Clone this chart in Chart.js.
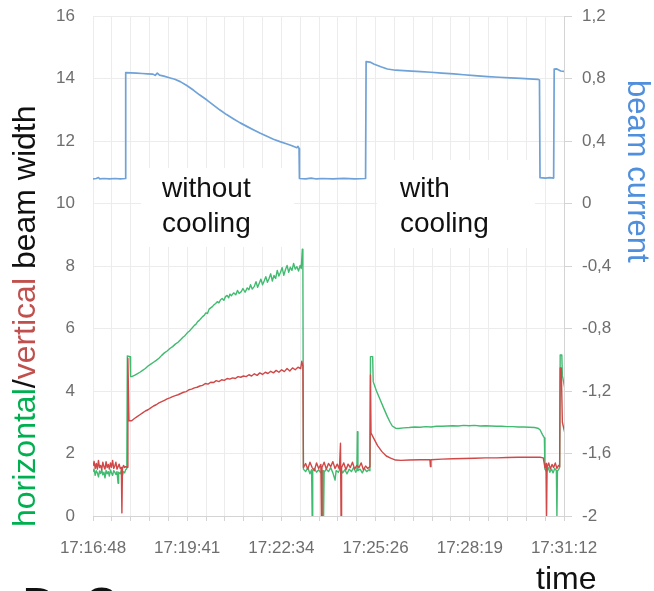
<!DOCTYPE html>
<html>
<head>
<meta charset="utf-8">
<script src="https://cdn.jsdelivr.net/npm/chart.js@4/dist/chart.umd.min.js"></script>
<style>
  html, body { margin: 0; padding: 0; background: #fff; }
  canvas { display: block; }
</style>
</head>
<body>
<canvas id="c" width="654" height="591"></canvas>
<script>
// Time axis: seconds after 17:16:48, major labels every 172.8 s
const xTickLabels = ['17:16:48', '17:19:41', '17:22:34', '17:25:26', '17:28:19', '17:31:12'];
const xMinorStep = 34.56;   // five minor grid steps per labelled tick
const xSpan = 864;

const leftTickValues = [0, 2, 4, 6, 8, 10, 12, 14, 16];
const rightTickValues = [-2, -1.6, -1.2, -0.8, -0.4, 0, 0.4, 0.8, 1.2];
const rightTickLabels = ['-2', '-1,6', '-1,2', '-0,8', '-0,4', '0', '0,4', '0,8', '1,2'];

// horizontal beam width [t (s), width]
const widthH = [
  [0,1.42],[2,1.50],[4,1.30],[6,1.45],[8,1.38],[10,1.25],[12,1.44],[14,1.36],[16,1.48],[18,1.32],
  [20,1.40],[22,1.22],[24,1.46],[26,1.35],[28,1.42],[30,1.28],[32,1.47],[34,1.38],[36,1.30],[38,1.45],
  [40,1.40],[42,1.33],[44,1.42],[46,1.05],[47,1.40],[50,1.35],[52,1.46],[54,1.30],[56,1.42],[58,1.38],
  [60,1.48],[62,1.52],[63,5.12],[68,5.10],[69,4.46],
  [71,4.46],[76,4.50],[81,4.55],[86,4.60],[91,4.66],[96,4.72],[101,4.80],[106,4.86],[111,4.92],[116,4.98],
  [121,5.05],[126,5.14],[131,5.22],[136,5.28],[141,5.36],[146,5.42],[151,5.50],[156,5.56],[161,5.65],[165,5.72],
  [168,5.76],[171,5.82],[174,5.88],[177,5.92],[180,5.98],[183,6.04],[186,6.10],[189,6.14],[192,6.22],[195,6.26],
  [198,6.32],[201,6.38],[204,6.42],[207,6.50],[210,6.48],[213,6.62],[216,6.66],[219,6.70],[222,6.76],[225,6.80],
  [228,6.86],[231,6.82],[234,6.92],[237,6.96],[240,6.90],[243,7.02],[246,7.06],[249,6.98],[251,7.10],[254,7.05],
  [258,7.14],[262,7.08],[265,7.22],[268,7.12],[272,7.18],[275,7.28],[279,7.16],[283,7.30],[286,7.24],[289,7.40],
  [292,7.26],[296,7.35],[299,7.50],[302,7.32],[305,7.45],[308,7.58],[311,7.40],[314,7.52],[317,7.66],[320,7.48],
  [323,7.60],[326,7.75],[329,7.52],[332,7.70],[335,7.60],[338,7.86],[341,7.68],[344,7.80],[347,7.95],[350,7.70],
  [353,7.88],[356,8.02],[359,7.80],[362,7.96],[365,7.86],[368,8.08],[371,7.90],[374,7.98],[377,7.84],[380,8.02],
  [382,7.92],[384,8.54],[385,8.00],[386,1.50],
  [390,1.42],[394,1.55],[398,1.35],[401,1.48],[402,0.00],[403,1.45],[406,1.52],[410,1.40],[414,1.48],[418,1.38],
  [420,1.45],[421,0.00],[422,1.45],[423,0.00],[424,1.40],[428,1.50],[432,1.42],[436,1.55],[440,1.38],[444,1.15],
  [446,1.45],[450,1.40],[454,1.52],[458,1.38],[462,1.48],[466,1.35],[470,1.50],[474,1.42],[478,1.55],[482,1.40],
  [484,1.46],[485,2.70],[486,1.45],[490,1.50],[494,1.38],[498,1.52],[502,1.42],[506,1.48],[508,1.45],
  [509,5.10],[513,5.10],[514,4.30],[520,4.00],[527,3.71],[534,3.42],[540,3.18],[545,3.00],[549,2.88],[555,2.81],
  [560,2.80],[570,2.82],[580,2.83],[590,2.85],[600,2.84],[610,2.86],[620,2.85],[630,2.87],[640,2.87],[650,2.88],
  [660,2.89],[670,2.88],[680,2.90],[690,2.89],[700,2.90],[710,2.88],[720,2.89],[730,2.88],[740,2.87],[750,2.87],
  [760,2.86],[770,2.86],[780,2.85],[790,2.85],[800,2.84],[810,2.83],[816,2.81],[820,2.76],[825,2.59],[828,2.50],
  [829,1.50],[832,1.42],[835,1.55],[838,1.40],[841,1.50],[844,1.38],[847,1.52],[850,1.45],[851,0.00],[852,1.45],
  [854,1.48],[856,1.55],[857,5.15],[860,5.15],[861,4.50],[866,4.03]
];

// vertical beam width [t (s), width]
const widthV = [
  [0,1.60],[2,1.75],[4,1.52],[6,1.68],[8,1.50],[10,1.78],[12,1.55],[14,1.62],[16,1.48],[18,1.72],
  [20,1.58],[22,1.50],[24,1.74],[26,1.55],[28,1.65],[30,1.50],[32,1.70],[34,1.56],[36,1.78],[38,1.52],
  [40,1.60],[42,1.72],[44,1.50],[46,1.58],[48,1.66],[50,1.52],[52,1.55],[53,0.10],[54,1.52],[56,1.62],
  [58,1.55],[60,1.58],[63,1.56],[64,5.05],[66,3.05],
  [71,3.05],[76,3.12],[81,3.18],[86,3.24],[91,3.30],[96,3.36],[101,3.40],[106,3.46],[111,3.52],[116,3.56],
  [121,3.62],[126,3.66],[131,3.70],[136,3.75],[141,3.78],[146,3.82],[151,3.85],[156,3.88],[161,3.92],[166,3.96],
  [171,3.98],[176,4.04],[181,4.06],[186,4.10],[191,4.12],[196,4.16],[201,4.18],[206,4.24],[211,4.22],[216,4.28],
  [221,4.27],[226,4.33],[231,4.30],[236,4.36],[241,4.34],[246,4.40],[251,4.38],[256,4.42],[261,4.40],[266,4.46],
  [271,4.44],[276,4.48],[281,4.46],[286,4.52],[291,4.48],[296,4.55],[301,4.50],[306,4.58],[311,4.53],[316,4.60],
  [321,4.56],[326,4.63],[331,4.58],[336,4.66],[341,4.60],[346,4.68],[351,4.62],[356,4.72],[361,4.64],[366,4.74],
  [371,4.68],[376,4.76],[381,4.72],[383,4.95],[385,4.80],[386,1.55],
  [390,1.68],[394,1.50],[398,1.72],[402,1.55],[406,1.45],[410,1.70],[414,1.52],[418,1.65],[419,0.00],[420,1.55],
  [424,1.72],[428,1.50],[432,1.68],[436,1.58],[440,1.74],[444,1.52],[448,1.66],[452,1.50],[454,2.33],[455,0.00],
  [456,1.55],[460,1.70],[464,1.48],[468,1.66],[472,1.55],[476,1.72],[480,1.50],[484,1.62],[488,1.55],[492,1.70],
  [496,1.48],[500,1.60],[504,1.52],[508,1.58],
  [509,4.51],[510,2.65],[516,2.45],[522,2.25],[530,2.06],[538,1.92],[546,1.85],[555,1.79],[565,1.78],[580,1.79],
  [600,1.80],[618,1.80],[619,1.58],[620,1.80],[640,1.82],[660,1.83],[680,1.84],[700,1.85],[720,1.86],[740,1.86],
  [760,1.87],[780,1.88],[800,1.88],[820,1.88],[826,1.86],[829,1.55],
  [831,1.68],[832,0.00],[833,1.55],[836,1.70],[839,1.50],[842,1.65],[845,1.55],[848,1.70],[851,1.52],[854,1.62],
  [856,1.58],[857,4.74],[859,4.74],[861,3.00],[866,2.62]
];

// beam current [t (s), current]
const current = [
  [0,0.158],[6,0.160],[10,0.166],[12,0.158],[20,0.160],[30,0.157],[40,0.160],[50,0.158],[59.8,0.160],
  [60,0.837],[70,0.836],[80,0.834],[90,0.832],[100,0.830],[110,0.828],[114,0.820],[118,0.834],[122,0.822],
  [130,0.815],[140,0.805],[150,0.795],[160,0.780],[172,0.755],[184,0.726],[196,0.694],[209,0.662],[221,0.630],
  [233,0.598],[245,0.569],[258,0.541],[270,0.516],[283,0.492],[295,0.470],[307,0.449],[319,0.430],[331,0.411],
  [343,0.396],[356,0.381],[365,0.370],[374,0.357],[376,0.366],[378,0.352],
  [378.7,0.160],[390,0.158],[400,0.162],[410,0.157],[420,0.160],[440,0.158],[460,0.161],[480,0.157],[500,0.160],
  [501,0.908],[508,0.905],[515,0.893],[528,0.875],[540,0.861],[555,0.853],[570,0.850],[585,0.847],[601,0.844],
  [620,0.840],[640,0.835],[662,0.829],[680,0.824],[700,0.818],[724,0.812],[745,0.808],[765,0.804],[785,0.801],
  [800,0.798],[816,0.795],[819,0.790],
  [820,0.165],[830,0.162],[838,0.165],[845,0.163],
  [846,0.860],[850,0.862],[858,0.848],[866,0.844]
];

const GREEN_LINE = '#41bb70';
const RED_LINE = '#d04848';
const BLUE_LINE = '#6fa2d8';
const TICK_GREY = '#6e6e6e';
const GRID = '#ececec';
const AXIS = '#d4d4d4';

// white panels behind the two captions
const captionPanels = {
  id: 'captionPanels',
  beforeDatasetsDraw(chart) {
    const ctx = chart.ctx;
    ctx.save();
    ctx.fillStyle = '#ffffff';
    ctx.fillRect(141, 168, 153, 79);
    ctx.fillRect(377, 160, 158, 88);
    ctx.restore();
  }
};

// captions, axis titles and footer text
const chartTexts = {
  id: 'chartTexts',
  afterDraw(chart) {
    const ctx = chart.ctx;
    ctx.save();
    ctx.textBaseline = 'alphabetic';
    ctx.textAlign = 'left';

    ctx.fillStyle = '#111111';
    ctx.font = '28px "Liberation Sans", Arial, sans-serif';
    ctx.fillText('without', 162, 197);
    ctx.fillText('cooling', 162, 232);
    ctx.fillText('with', 400, 197);
    ctx.fillText('cooling', 400, 232);

    // left title in three colours, reading bottom to top
    ctx.save();
    ctx.translate(35, 527);
    ctx.rotate(-Math.PI / 2);
    ctx.font = '32px "Liberation Sans", Arial, sans-serif';
    const parts = [['horizontal', '#00b050'], ['/', '#111111'], ['vertical', '#c0504d'], [' beam width', '#111111']];
    let off = 0;
    for (const [txt, col] of parts) {
      ctx.fillStyle = col;
      ctx.fillText(txt, off, 0);
      off += ctx.measureText(txt).width;
    }
    ctx.restore();

    // right title, reading top to bottom
    ctx.save();
    ctx.translate(628, 80);
    ctx.rotate(Math.PI / 2);
    ctx.font = '31px "Liberation Sans", Arial, sans-serif';
    ctx.fillStyle = '#4f8fdc';
    ctx.fillText('beam current', 0, 0);
    ctx.restore();

    ctx.fillStyle = '#111111';
    ctx.font = '32px "Liberation Sans", Arial, sans-serif';
    ctx.fillText('time', 536, 589);

    ctx.font = '48px "Liberation Sans", Arial, sans-serif';
    ctx.fillText('D. C', 22, 621);
    ctx.restore();
  }
};

const tickFont = { family: '"Liberation Sans", Arial, sans-serif', size: 17 };

// vertical axes: fixed widths, no extra room reserved for the end labels
function fitVertical(width) {
  return function (scale) {
    scale.width = width;
    scale.paddingTop = 0;
    scale.paddingBottom = 0;
  };
}

new Chart(document.getElementById('c'), {
  type: 'line',
  data: {
    datasets: [
      { label: 'vertical', data: widthV, yAxisID: 'yWidth', borderColor: RED_LINE, borderWidth: 1.4 },
      { label: 'horizontal', data: widthH, yAxisID: 'yWidth', borderColor: GREEN_LINE, borderWidth: 1.4 },
      { label: 'beam current', data: current, yAxisID: 'yCurrent', borderColor: BLUE_LINE, borderWidth: 1.7 }
    ]
  },
  options: {
    responsive: false,
    animation: false,
    events: [],
    layout: { padding: { top: 16, left: 0, right: 0, bottom: 0 } },
    elements: { point: { radius: 0 }, line: { tension: 0, borderJoinStyle: 'round' } },
    plugins: { legend: { display: false }, tooltip: { enabled: false } },
    scales: {
      x: {
        type: 'linear',
        min: 0,
        max: xSpan,
        afterBuildTicks(scale) {
          const n = Math.round(xSpan / xMinorStep);
          scale.ticks = Array.from({ length: n + 1 }, (_, i) => ({ value: i * xMinorStep }));
        },
        afterFit(scale) { scale.height = 75; scale.paddingLeft = 0; scale.paddingRight = 0; },
        ticks: {
          autoSkip: false,
          maxRotation: 0,
          padding: 17,
          color: TICK_GREY,
          font: tickFont,
          callback: (v, i) => (i % 5 === 0 ? xTickLabels[i / 5] : '')
        },
        grid: { color: GRID, tickColor: AXIS, tickLength: 5, lineWidth: 1 },
        border: { display: true, color: AXIS }
      },
      yWidth: {
        type: 'linear',
        position: 'left',
        min: 0,
        max: 16,
        afterBuildTicks(scale) { scale.ticks = leftTickValues.map(v => ({ value: v })); },
        afterFit: fitVertical(93),
        ticks: { padding: 18, color: TICK_GREY, font: tickFont },
        grid: { color: GRID, drawTicks: false },
        border: { display: false }
      },
      yCurrent: {
        type: 'linear',
        position: 'right',
        min: -2,
        max: 1.2,
        afterBuildTicks(scale) { scale.ticks = rightTickValues.map(v => ({ value: v })); },
        afterFit: fitVertical(90),
        ticks: { padding: 10, color: TICK_GREY, font: tickFont, callback: (v, i) => rightTickLabels[i] },
        grid: { drawOnChartArea: false, color: AXIS, tickLength: 8 },
        border: { display: true, color: AXIS }
      }
    }
  },
  plugins: [captionPanels, chartTexts]
});
</script>
</body>
</html>
